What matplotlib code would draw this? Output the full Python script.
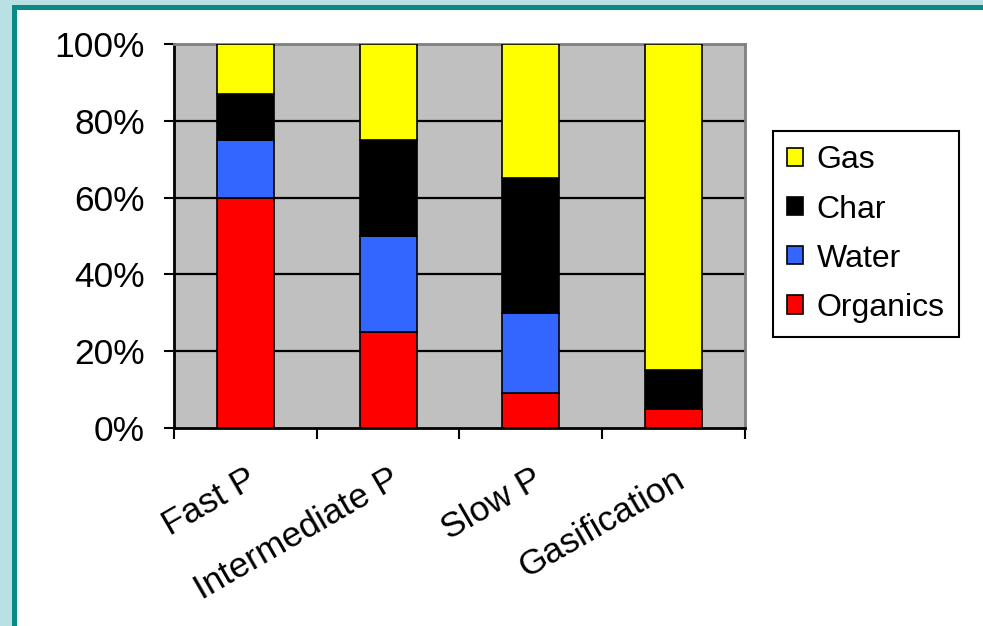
import matplotlib
matplotlib.use("Agg")
import matplotlib.pyplot as plt
from matplotlib.patches import Rectangle, Patch
import numpy as np

categories = ["Fast P", "Intermediate P", "Slow P", "Gasification"]
organics = [60, 25, 9, 5]
water = [15, 25, 21, 0]
char = [12, 25, 35, 10]
gas = [13, 25, 35, 85]
y_ticks = [0, 20, 40, 60, 80, 100]

series = [("Organics", organics, "#FF0000"),
          ("Water", water, "#3366FF"),
          ("Char", char, "#000000"),
          ("Gas", gas, "#FFFF00")]

plt.rcParams["font.family"] = ["Liberation Sans", "DejaVu Sans"]

fig = plt.figure(figsize=(9.83, 6.26), dpi=100)
fig.patch.set_facecolor("white")

# frame (slide border) on the left and top
W, H = 983, 626
fig.add_artist(Rectangle((0, 0), 12 / W, 1, transform=fig.transFigure, color="#B9E1E4", lw=0))
fig.add_artist(Rectangle((0, 1 - 5 / H), 1, 5 / H, transform=fig.transFigure, color="#B9E1E4", lw=0))
fig.add_artist(Rectangle((12 / W, 0), 5 / W, 1 - 5 / H, transform=fig.transFigure, color="#0A8A86", lw=0))
fig.add_artist(Rectangle((12 / W, 1 - 10 / H), 1, 5 / H, transform=fig.transFigure, color="#0A8A86", lw=0))

ax = fig.add_axes([174 / W, 1 - 428 / H, (745 - 174) / W, (428 - 44) / H])
ax.set_facecolor("#C0C0C0")

x = np.arange(len(categories))
bottom = np.zeros(len(categories))
for name, vals, col in series:
    vals = np.array(vals, dtype=float)
    ax.bar(x, vals, 0.4, bottom=bottom, color=col, edgecolor="black", linewidth=1.2, zorder=3)
    bottom += vals

ax.set_xlim(-0.5, len(categories) - 0.5)
ax.set_ylim(0, 100)

for t in y_ticks[1:-1]:
    ax.axhline(t, color="black", lw=1.6, zorder=1)

ax.set_yticks(y_ticks)
ax.set_yticklabels([f"{t}%" for t in y_ticks], fontsize=25.5)
ax.tick_params(axis="y", direction="out", length=7, width=1.5, pad=14)

ax.set_xticks(x)
ax.set_xticklabels(categories, fontsize=25.5, rotation=30, ha="right", va="top",
                   rotation_mode="anchor")
ax.tick_params(axis="x", which="major", length=0, pad=25)
ax.set_xticks(np.arange(len(categories) + 1) - 0.5, minor=True)
ax.tick_params(axis="x", which="minor", direction="out", length=8, width=1.5)

for s in ["left", "bottom"]:
    ax.spines[s].set_color("black")
    ax.spines[s].set_linewidth(2)
for s in ["top", "right"]:
    ax.spines[s].set_color("#808080")
    ax.spines[s].set_linewidth(2)

handles = [Patch(facecolor=col, edgecolor="black", linewidth=1.2, label=name)
           for name, _, col in reversed(series)]
leg = fig.legend(handles=handles, loc="upper left",
                 bbox_to_anchor=(773 / W, 1 - 131 / H), fontsize=23,
                 frameon=True, fancybox=False, framealpha=1, edgecolor="black",
                 handlelength=0.5, handleheight=0.5, handletextpad=0.42,
                 labelspacing=0.6, borderpad=0.45, borderaxespad=0)
leg.get_frame().set_linewidth(1.5)

fig.savefig("out.png", dpi=100, facecolor="white")
